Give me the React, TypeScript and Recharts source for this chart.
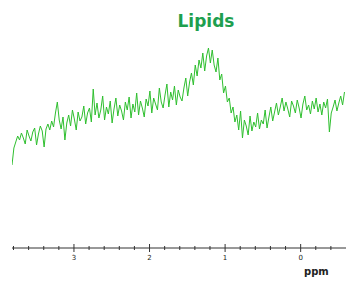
import { LineChart, Line, XAxis, YAxis } from "recharts";

// spectrum sampled every 0.025 ppm starting at 3.82 ppm (reading right-to-left on the axis)
const startPpm = 3.82;
const stepPpm = 0.025;

const intensity = [
  83, 100, 106, 112, 108, 115, 110, 104, 118, 112,
  107, 116, 120, 103, 114, 122, 117, 101, 119, 124,
  118, 127, 121, 135, 146, 128, 119, 131, 108, 125,
  133, 122, 138, 129, 118, 136, 127, 131, 142, 124,
  135, 140, 126, 159, 133, 145, 130, 138, 152, 128,
  141, 134, 147, 125, 139, 150, 132, 143, 137, 128,
  146, 138, 151, 130, 144, 136, 155, 133, 147, 140,
  131, 149, 142, 157, 135, 150, 144, 138, 160, 146,
  140, 153, 164, 141, 156, 148, 162, 143, 158, 151,
  147, 160, 170, 152, 166, 175, 163, 183, 172, 188,
  180, 195, 177, 192, 200, 185, 198, 183, 176, 190,
  168, 174, 155, 162, 146, 150, 135, 141, 126, 133,
  118, 137, 110, 128, 122, 113, 132, 117, 126, 121,
  135, 119, 128, 124, 138, 120, 131, 141, 127, 136,
  145, 133, 141, 150, 137, 146, 139, 131, 147, 142,
  135, 148, 140, 130, 144, 152, 138, 143, 134, 147,
  139, 150, 136, 144, 133, 146, 140, 149, 116, 135,
  141, 148, 137, 145, 152, 143, 156,
];

const majorTicks = [3, 2, 1, 0];
const allTicks = [3.8, 3.6, 3.4, 3.2, 3, 2.8, 2.6, 2.4, 2.2, 2, 1.8, 1.6, 1.4, 1.2, 1, 0.8, 0.6, 0.4, 0.2, 0, -0.2, -0.4];

const rows = intensity.map((v, i) => ({
  ppm: +(startPpm - i * stepPpm).toFixed(3),
  v,
}));

function PpmTick(props: any) {
  const { x, y, payload } = props;
  const major = majorTicks.includes(payload.value);
  return (
    <g>
      <line x1={x} x2={x} y1={y - (major ? 4 : 2)} y2={y + (major ? 4 : 2)} stroke="#333" strokeWidth={1} />
      {major && (
        <text x={x} y={y + 12} textAnchor="middle" fontSize={7} fontFamily="DejaVu Sans" fill="#222">
          {payload.value}
        </text>
      )}
    </g>
  );
}

export default function App() {
  return (
    <div style={{ position: "absolute", left: 0, top: 0, width: 347, height: 281, background: "#fff" }}>
      <div
        style={{
          position: "absolute",
          left: 0,
          width: 412,
          top: 11,
          textAlign: "center",
          fontFamily: "DejaVu Sans",
          fontWeight: "bold",
          fontSize: 17,
          color: "#1e9f4f",
        }}
      >
        Lipids
      </div>
      <LineChart width={347} height={281} data={rows} margin={{ top: 28, right: 1, bottom: 0, left: 12 }}>
        <XAxis
          dataKey="ppm"
          type="number"
          domain={[-0.6, 3.82]}
          reversed
          ticks={allTicks}
          interval={0}
          tickLine={false}
          tickSize={0}
          tickMargin={0}
          allowDataOverflow
          axisLine={{ stroke: "#333", strokeWidth: 1 }}
          tick={<PpmTick />}
          height={33}
        />
        <YAxis hide domain={[0, 220]} />
        <Line type="linear" dataKey="v" stroke="#2fbf2f" strokeWidth={1} dot={false} isAnimationActive={false} />
      </LineChart>
      <div
        style={{
          position: "absolute",
          left: 304,
          top: 266,
          fontFamily: "DejaVu Sans",
          fontWeight: "bold",
          fontSize: 10,
          color: "#222",
        }}
      >
        ppm
      </div>
    </div>
  );
}
